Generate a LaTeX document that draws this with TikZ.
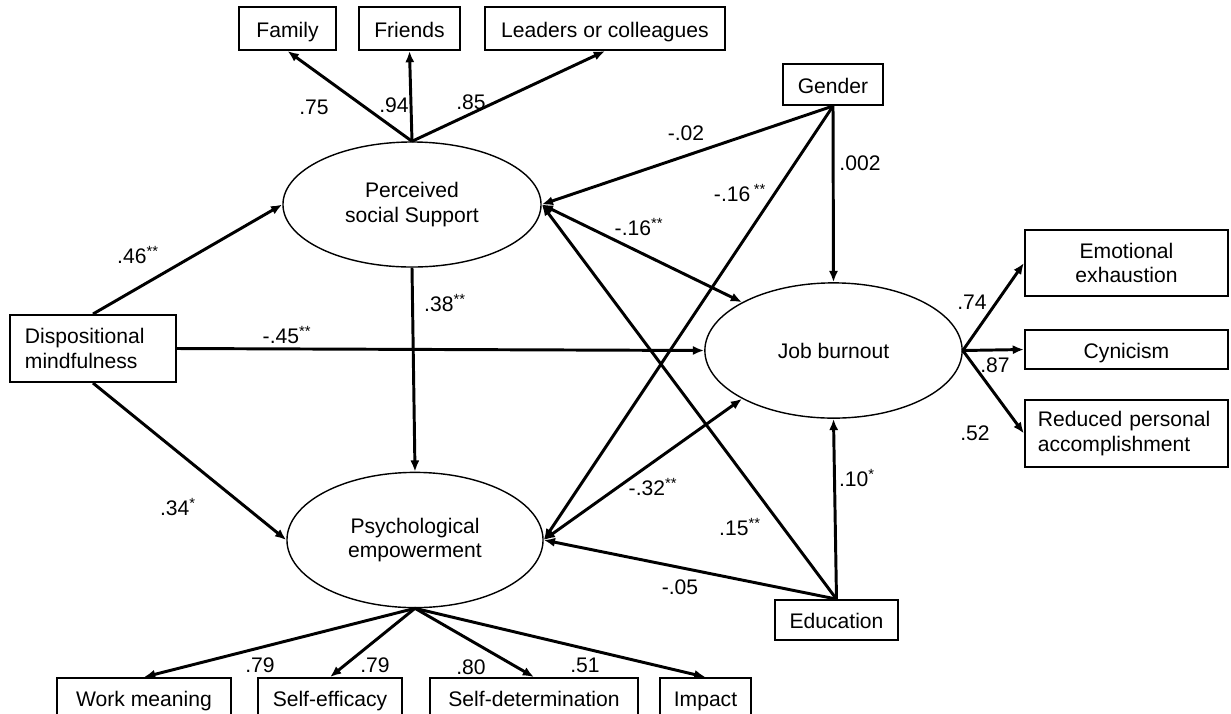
\documentclass[tikz,border=0pt]{standalone}
\usepackage{fontspec}
\setmainfont{Liberation Sans}
\usetikzlibrary{arrows.meta,shapes.geometric}
\newcommand{\sig}[1]{\textsuperscript{#1}}

\begin{document}
\begin{tikzpicture}[x=0.025cm,y=-0.025cm,
  font=\fontsize{15}{17.5}\selectfont,
  varbox/.style={draw,line width=1.3pt,inner sep=0pt,minimum height=1.0cm},
  oneline/.style={varbox,text height=12.6pt,text depth=0pt},
  latent/.style={ellipse,draw,line width=1pt,inner sep=0pt,align=center},
  arr/.style={-{Latex[length=8pt,width=6.5pt]},line width=2.1pt},
  biarr/.style={{Latex[length=8pt,width=6.5pt]}-{Latex[length=8pt,width=6.5pt]},line width=2.1pt},
  coef/.style={inner sep=0pt}]
\useasboundingbox (0,0) rectangle (1231,713);

% latent variables
\node[latent,minimum width=6.45cm,minimum height=3.125cm] (pss) at (412,204.5) {Perceived\\social Support};
\node[latent,minimum width=6.43cm,minimum height=3.38cm] (jb) at (833.5,350.5) {Job burnout};
\node[latent,minimum width=6.4cm,minimum height=3.38cm] (pe) at (415,540) {Psychological\\empowerment};

% indicators of support
\node[oneline,minimum width=2.43cm,minimum height=1.08cm] (family) at (287.5,28.5) {Family};
\node[oneline,minimum width=2.53cm,minimum height=1.08cm] (friends) at (409.5,28.5) {Friends};
\node[oneline,minimum width=6.0cm,minimum height=1.08cm] (leaders) at (605,28.5) {Leaders or colleagues};

% observed predictors
\node[varbox,minimum height=1.68cm,text width=3.4cm,inner xsep=0.375cm,align=left] (dm) at (93,348.5) {Dispositional\\mindfulness};
\node[oneline,minimum width=2.5cm,minimum height=1.03cm] (gender) at (833,84.5) {Gender};
\node[oneline,minimum width=3.08cm] (edu) at (836.5,620) {Education};

% indicators of burnout
\node[varbox,minimum width=5.08cm,minimum height=1.65cm,align=center] (ee) at (1126.5,263) {Emotional\\exhaustion};
\node[oneline,minimum width=5.08cm,minimum height=0.98cm] (cyn) at (1126.5,349.5) {Cynicism};
\node[varbox,minimum height=1.68cm,text width=4.43cm,inner xsep=0.325cm,align=left] (rpa) at (1126.5,433.5) {Reduced personal\\accomplishment};

% indicators of empowerment
\node[oneline,minimum width=4.35cm] (wm) at (144,698) {Work meaning};
\node[oneline,minimum width=3.6cm] (se) at (330,698) {Self-efficacy};
\node[oneline,minimum width=5.2cm] (sd) at (534,698) {Self-determination};
\node[oneline,minimum width=2.28cm] (imp) at (705.5,698) {Impact};

% paths
\draw[arr] (pss.north) -- (family.south);
\draw[arr] (pss.north) -- (friends.south);
\draw[arr] (pss.north) -- (leaders.south);
\draw[arr] (dm.north) -- (pss.west);
\draw[arr] (dm.east) -- (jb.west);
\draw[arr] (dm.south) -- (pe.west);
\draw[arr] (pss.south) -- (pe.north);
\draw[arr] (gender.south) -- (pss.east);
\draw[arr] (gender.south) -- (pe.east);
\draw[arr] (gender.south) -- (jb.north);
\draw[biarr] (pss.east) -- (jb.north west);
\draw[biarr] (pe.east) -- (jb.south west);
\draw[arr] (edu.north) -- (jb.south);
\draw[arr] (edu.north) -- (pss.east);
\draw[arr] (edu.north) -- (pe.east);
\draw[arr] (jb.east) -- (ee.west);
\draw[arr] (jb.east) -- (cyn.west);
\draw[arr] (jb.east) -- (rpa.west);
\draw[arr] (pe.south) -- (wm.north);
\draw[arr] (pe.south) -- (se.north);
\draw[arr] (pe.south) -- (sd.north);
\draw[arr] (pe.south) -- (imp.north);

% coefficients
\node[coef] (cfam) at (314,107) {.75};
\node[coef] (cfri) at (394,105) {.94};
\node[coef] (clea) at (471,102) {.85};
\node[coef] (cdmpss) at (138,255) {.46\sig{**}};
\node[coef] (cdmjb) at (287,335) {-.45\sig{**}};
\node[coef] (cdmpe) at (178,507) {.34\sig{*}};
\node[coef] (cpsspe) at (445,303) {.38\sig{**}};
\node[coef] (cgenpss) at (686,133) {-.02};
\node[coef] (cgenpe) at (740,193) {-.16\,\sig{**}};
\node[coef] (cgenjb) at (860,163) {.002};
\node[coef] (cpssjb) at (639,227) {-.16\sig{**}};
\node[coef] (cpejb) at (653,487) {-.32\sig{**}};
\node[coef] (cedupss) at (740,527) {.15\sig{**}};
\node[coef] (ceduj) at (857,478) {.10\sig{*}};
\node[coef] (cedupe) at (680,587) {-.05};
\node[coef] (cee) at (972,302) {.74};
\node[coef] (ccyn) at (995,365) {.87};
\node[coef] (crpa) at (975,433) {.52};
\node[coef] (cwm) at (260,665) {.79};
\node[coef] (cse) at (375,665) {.79};
\node[coef] (csd) at (471,667) {.80};
\node[coef] (cimp) at (585,665) {.51};
\end{tikzpicture}
\end{document}
